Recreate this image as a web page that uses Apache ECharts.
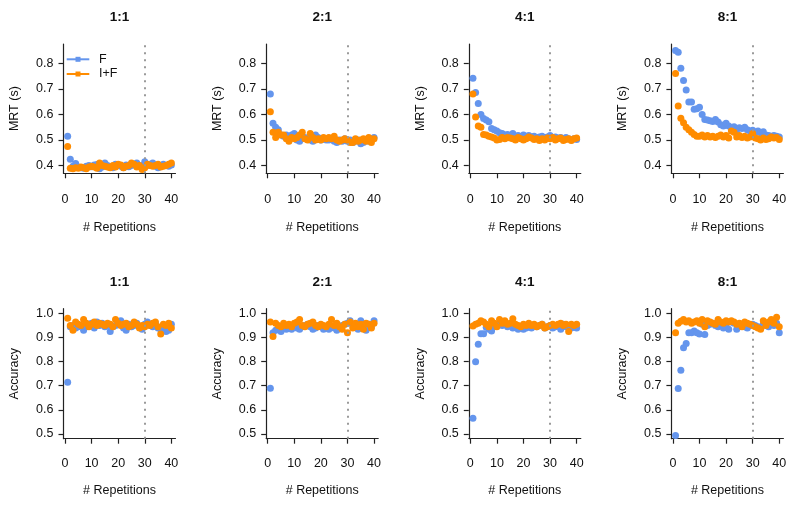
<!DOCTYPE html>
<html>
<head>
<meta charset="utf-8">
<script src="https://cdn.jsdelivr.net/npm/echarts@6/dist/echarts.min.js"></script>
<style>html,body{margin:0;padding:0;background:#fff}#c{width:800px;height:505px}</style>
</head>
<body>
<div id="c"></div>
<script>
const reps = [1,2,3,4,5,6,7,8,9,10,11,12,13,14,15,16,17,18,19,20,21,22,23,24,25,26,27,28,29,30,31,32,33,34,35,36,37,38,39,40];
const ratios = ['1:1','2:1','4:1','8:1'];
const seriesNames = ['F','I+F'];
const xTicks = [0,10,20,30,40];
const mrtTicks = [0.4,0.5,0.6,0.7,0.8];
const accTicks = [0.5,0.6,0.7,0.8,0.9,1.0];
const cutoff = 30;

const mrt11F  = [0.515,0.425,0.398,0.408,0.395,0.392,0.390,0.398,0.400,0.396,0.402,0.404,0.388,0.395,0.410,0.400,0.395,0.392,0.405,0.400,0.398,0.392,0.402,0.396,0.400,0.405,0.410,0.398,0.400,0.415,0.400,0.405,0.410,0.398,0.392,0.400,0.405,0.400,0.398,0.402];
const mrt11IF = [0.475,0.390,0.388,0.392,0.390,0.395,0.392,0.388,0.395,0.398,0.395,0.390,0.410,0.400,0.398,0.395,0.392,0.400,0.395,0.405,0.402,0.392,0.398,0.400,0.410,0.405,0.395,0.400,0.385,0.392,0.405,0.400,0.398,0.400,0.405,0.395,0.398,0.400,0.405,0.410];
const mrt21F  = [0.680,0.565,0.550,0.540,0.520,0.515,0.520,0.510,0.520,0.525,0.500,0.495,0.505,0.510,0.505,0.500,0.495,0.520,0.510,0.500,0.505,0.500,0.500,0.505,0.495,0.490,0.500,0.495,0.505,0.495,0.500,0.490,0.495,0.500,0.485,0.490,0.500,0.495,0.500,0.510];
const mrt21IF = [0.610,0.530,0.510,0.530,0.520,0.520,0.505,0.495,0.510,0.505,0.510,0.520,0.530,0.505,0.500,0.525,0.510,0.500,0.505,0.500,0.510,0.505,0.510,0.505,0.515,0.500,0.495,0.500,0.505,0.500,0.490,0.490,0.505,0.495,0.500,0.505,0.495,0.510,0.490,0.505];
const mrt41F  = [0.741,0.686,0.643,0.600,0.584,0.578,0.571,0.545,0.540,0.535,0.528,0.525,0.520,0.522,0.518,0.525,0.515,0.518,0.512,0.520,0.515,0.518,0.512,0.515,0.510,0.512,0.515,0.510,0.512,0.518,0.510,0.512,0.508,0.510,0.505,0.510,0.505,0.500,0.505,0.502];
const mrt41IF = [0.680,0.590,0.555,0.550,0.522,0.520,0.515,0.512,0.508,0.500,0.502,0.510,0.505,0.510,0.508,0.505,0.500,0.510,0.505,0.500,0.505,0.512,0.508,0.502,0.505,0.498,0.505,0.500,0.508,0.505,0.510,0.500,0.505,0.508,0.498,0.502,0.505,0.498,0.505,0.508];
const mrt81F  = [0.850,0.843,0.780,0.732,0.695,0.648,0.648,0.620,0.622,0.628,0.600,0.580,0.578,0.575,0.572,0.580,0.570,0.560,0.555,0.565,0.555,0.548,0.552,0.540,0.548,0.545,0.550,0.540,0.535,0.538,0.530,0.535,0.528,0.532,0.520,0.518,0.515,0.518,0.515,0.512];
const mrt81IF = [0.760,0.633,0.585,0.567,0.550,0.540,0.530,0.522,0.515,0.515,0.520,0.512,0.518,0.512,0.515,0.510,0.515,0.520,0.512,0.518,0.508,0.535,0.530,0.512,0.518,0.510,0.515,0.508,0.512,0.525,0.508,0.505,0.500,0.508,0.502,0.505,0.512,0.508,0.510,0.502];

const acc11F  = [0.715,0.945,0.950,0.940,0.945,0.950,0.930,0.945,0.955,0.960,0.940,0.965,0.950,0.960,0.945,0.950,0.925,0.945,0.950,0.960,0.970,0.940,0.930,0.955,0.945,0.950,0.960,0.945,0.935,0.955,0.965,0.950,0.945,0.960,0.940,0.935,0.945,0.925,0.930,0.955];
const acc11IF = [0.980,0.950,0.930,0.965,0.955,0.950,0.975,0.960,0.945,0.955,0.965,0.950,0.960,0.955,0.950,0.960,0.955,0.945,0.975,0.960,0.950,0.955,0.960,0.945,0.950,0.965,0.955,0.940,0.950,0.945,0.955,0.950,0.960,0.965,0.945,0.915,0.955,0.950,0.960,0.940];
const acc21F  = [0.690,0.920,0.930,0.935,0.925,0.945,0.935,0.940,0.935,0.950,0.940,0.935,0.945,0.950,0.955,0.945,0.935,0.940,0.950,0.945,0.935,0.940,0.935,0.945,0.940,0.930,0.945,0.950,0.955,0.960,0.970,0.950,0.945,0.935,0.970,0.945,0.930,0.955,0.945,0.970];
const acc21IF = [0.965,0.905,0.960,0.950,0.945,0.960,0.950,0.955,0.945,0.960,0.965,0.975,0.950,0.945,0.955,0.960,0.965,0.950,0.945,0.955,0.950,0.945,0.955,0.975,0.950,0.960,0.945,0.935,0.955,0.920,0.965,0.940,0.960,0.945,0.955,0.935,0.960,0.955,0.940,0.960];
const acc41F  = [0.565,0.800,0.872,0.916,0.916,0.943,0.935,0.927,0.945,0.955,0.960,0.950,0.955,0.945,0.950,0.940,0.945,0.935,0.945,0.935,0.940,0.945,0.940,0.950,0.945,0.950,0.955,0.940,0.945,0.950,0.940,0.945,0.950,0.935,0.955,0.945,0.950,0.940,0.945,0.940];
const acc41IF = [0.948,0.955,0.960,0.970,0.965,0.955,0.945,0.970,0.960,0.945,0.975,0.960,0.970,0.955,0.960,0.978,0.955,0.950,0.945,0.955,0.950,0.960,0.950,0.955,0.945,0.950,0.955,0.940,0.945,0.950,0.955,0.950,0.955,0.960,0.950,0.955,0.925,0.955,0.950,0.955];
const acc81F  = [0.493,0.689,0.764,0.858,0.875,0.920,0.920,0.927,0.920,0.915,0.955,0.913,0.950,0.955,0.960,0.950,0.945,0.955,0.940,0.945,0.935,0.965,0.960,0.935,0.945,0.955,0.945,0.940,0.950,0.955,0.950,0.945,0.940,0.955,0.950,0.945,0.955,0.950,0.960,0.920];
const acc81IF = [0.920,0.960,0.968,0.975,0.965,0.970,0.960,0.965,0.970,0.960,0.975,0.945,0.970,0.965,0.960,0.955,0.975,0.965,0.960,0.970,0.965,0.970,0.965,0.955,0.960,0.945,0.965,0.960,0.955,0.950,0.945,0.940,0.935,0.970,0.950,0.965,0.975,0.960,0.985,0.945];

const panels = [
  [[mrt11F, mrt11IF],[mrt21F, mrt21IF],[mrt41F, mrt41IF],[mrt81F, mrt81IF]],
  [[acc11F, acc11IF],[acc21F, acc21IF],[acc41F, acc41IF],[acc81F, acc81IF]]
];
const colors = ['#6495ED', '#FF8C00'];
const FONT = 'Liberation Sans, Arial, sans-serif';
const TXT = '#111';

const rowCfg = [
  {top: 44, height: 129.3, min: 0.37, max: 0.875, ticks: mrtTicks, name: 'MRT (s)', titleY: 17, xlabMargin: 20, xnameGap: 48},
  {top: 308.7, height: 130, min: 0.48, max: 1.02, ticks: accTicks, name: 'Accuracy', titleY: 282, xlabMargin: 18, xnameGap: 45}
];
const colLeft = [63.5, 266.2, 468.8, 671.4];
const gridW = 112;

const grid = [], xAxis = [], yAxis = [], series = [], graphic = [];
let gi = 0;
rowCfg.forEach((rc, r) => {
  colLeft.forEach((left, c) => {
    grid.push({left: left, top: rc.top, width: gridW, height: rc.height, containLabel: false});
    xAxis.push({
      type: 'value', gridIndex: gi, min: -0.56, max: 41.56,
      name: '# Repetitions', nameLocation: 'middle', nameGap: rc.xnameGap,
      nameTextStyle: {fontFamily: FONT, fontSize: 12.5, color: TXT},
      axisLine: {show: true, onZero: false, lineStyle: {color: '#222', width: 1.2}},
      axisTick: {show: true, length: 5, customValues: xTicks, lineStyle: {color: '#222', width: 1.2}},
      axisLabel: {customValues: xTicks, margin: rc.xlabMargin, fontFamily: FONT, fontSize: 12.5, color: TXT},
      splitLine: {show: false}
    });
    yAxis.push({
      type: 'value', gridIndex: gi, min: rc.min, max: rc.max,
      name: rc.name, nameLocation: 'middle', nameGap: 42, nameRotate: 90,
      nameTextStyle: {fontFamily: FONT, fontSize: 12.5, color: TXT},
      axisLine: {show: true, onZero: false, lineStyle: {color: '#222', width: 1.2}},
      axisTick: {show: true, length: 5, customValues: rc.ticks, lineStyle: {color: '#222', width: 1.2}},
      axisLabel: {customValues: rc.ticks, margin: 10, fontFamily: FONT, fontSize: 12.5, color: TXT,
        formatter: v => Number(v).toFixed(1)},
      splitLine: {show: false}
    });
    panels[r][c].forEach((vals, s) => {
      const ser = {
        type: 'scatter', name: seriesNames[s], xAxisIndex: gi, yAxisIndex: gi,
        symbol: 'circle', symbolSize: 7,
        itemStyle: {color: colors[s], opacity: 1},
        data: reps.map((x, i) => [x, vals[i]]),
        z: 2 + s
      };
      if (s === 1) {
        ser.markLine = {
          silent: true, symbol: ['none', 'none'], label: {show: false},
          lineStyle: {type: [2, 5], color: '#9a9a9a', width: 2},
          data: [{xAxis: cutoff}], z: 5
        };
      }
      series.push(ser);
    });
    graphic.push({
      type: 'text', x: left + gridW / 2, y: rc.titleY,
      style: {text: ratios[c], align: 'center', verticalAlign: 'middle',
        font: 'bold 13.5px ' + FONT, fill: '#111'}
    });
    gi++;
  });
});

// legend (panel 1)
const legY = [59.3, 74];
seriesNames.forEach((nm, s) => {
  graphic.push({type: 'line', shape: {x1: 66.7, y1: legY[s], x2: 89.3, y2: legY[s]},
    style: {stroke: colors[s], lineWidth: 2}});
  graphic.push({type: 'rect', shape: {x: 75.5, y: legY[s] - 2.5, width: 5, height: 5},
    style: {fill: colors[s]}});
  graphic.push({type: 'text', x: 99, y: legY[s],
    style: {text: nm, align: 'left', verticalAlign: 'middle', font: '12.5px ' + FONT, fill: TXT}});
});

const chart = echarts.init(document.getElementById('c'), null, {renderer: 'canvas'});
chart.setOption({
  animation: false,
  backgroundColor: '#fff',
  grid, xAxis, yAxis, series, graphic
});
</script>
</body>
</html>
